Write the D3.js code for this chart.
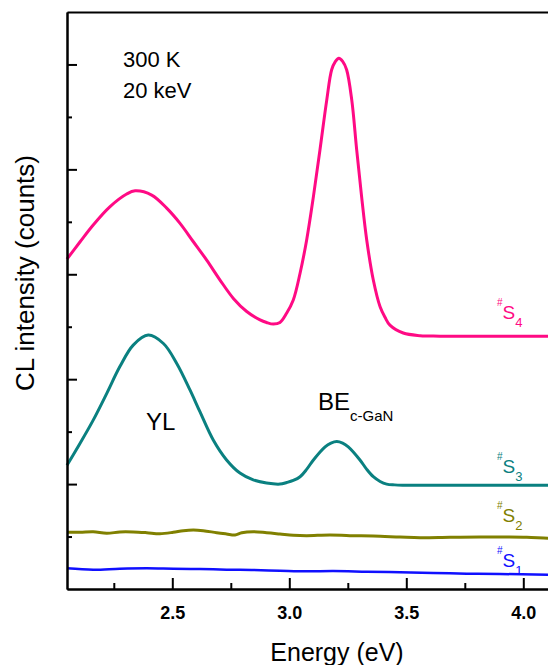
<!DOCTYPE html>
<html>
<head>
<meta charset="utf-8">
<script src="https://cdn.jsdelivr.net/npm/d3@7"></script>
<style>
  body { margin: 0; background: #fff; }
  svg { display: block; font-family: "Liberation Sans", Arial, sans-serif; }
</style>
</head>
<body>
<svg id="chart" width="548" height="665"></svg>
<script>
// values (intensity in arbitrary units, 1 unit = one minor y tick)
const s4Energy = [2.05, 2.106, 2.162, 2.234, 2.305, 2.341, 2.412, 2.476, 2.533, 2.59, 2.647, 2.704, 2.761, 2.818, 2.875, 2.903, 2.932, 2.96, 2.989, 3.017, 3.046, 3.074, 3.103, 3.131, 3.16, 3.181, 3.196, 3.212, 3.228, 3.245, 3.267, 3.288, 3.309, 3.331, 3.359, 3.388, 3.409, 3.43, 3.487, 3.559, 3.644, 4.2];
const s4Counts = [6.29, 6.62, 6.94, 7.29, 7.53, 7.59, 7.51, 7.26, 6.97, 6.62, 6.27, 5.89, 5.54, 5.29, 5.13, 5.08, 5.05, 5.08, 5.26, 5.51, 6.02, 6.65, 7.48, 8.37, 9.32, 9.9, 10.05, 10.12, 10.06, 9.9, 9.32, 8.37, 7.48, 6.65, 5.89, 5.38, 5.18, 5.03, 4.88, 4.83, 4.82, 4.82];

const s3Energy = [2.05, 2.106, 2.162, 2.22, 2.276, 2.333, 2.397, 2.462, 2.519, 2.576, 2.618, 2.675, 2.732, 2.789, 2.846, 2.903, 2.96, 2.989, 3.017, 3.046, 3.074, 3.103, 3.153, 3.178, 3.203, 3.228, 3.252, 3.302, 3.331, 3.359, 3.388, 3.416, 3.45, 3.487, 4.2];
const s3Counts = [2.36, 2.78, 3.22, 3.73, 4.24, 4.65, 4.84, 4.68, 4.3, 3.79, 3.38, 2.84, 2.46, 2.21, 2.08, 2.02, 2.0, 2.03, 2.07, 2.14, 2.28, 2.46, 2.71, 2.78, 2.81, 2.78, 2.71, 2.46, 2.28, 2.14, 2.05, 2.0, 1.985, 1.98, 1.98];

const s2Energy = [2.05, 2.106, 2.162, 2.22, 2.276, 2.333, 2.391, 2.447, 2.504, 2.547, 2.59, 2.632, 2.69, 2.732, 2.768, 2.797, 2.846, 2.903, 2.96, 3.017, 3.074, 3.174, 3.259, 3.359, 3.473, 3.559, 3.687, 3.815, 3.929, 4.015, 4.107, 4.2];
const s2Counts = [1.081, 1.081, 1.092, 1.062, 1.087, 1.087, 1.073, 1.054, 1.081, 1.112, 1.125, 1.112, 1.073, 1.049, 1.03, 1.073, 1.092, 1.073, 1.049, 1.024, 1.016, 1.03, 1.016, 1.01, 0.991, 0.978, 0.986, 0.991, 0.991, 0.986, 0.967, 0.96];

const s1Energy = [2.05, 2.162, 2.276, 2.391, 2.504, 2.618, 2.732, 2.846, 2.96, 3.074, 3.188, 3.331, 3.473, 3.615, 3.758, 3.9, 4.107, 4.2];
const s1Counts = [0.395, 0.368, 0.387, 0.395, 0.387, 0.381, 0.368, 0.362, 0.349, 0.337, 0.343, 0.33, 0.318, 0.305, 0.292, 0.286, 0.273, 0.27];

const xMajor = [2.5, 3.0, 3.5, 4.0];
const xMinor = [2.25, 2.75, 3.25, 3.75];
const yMajor = [2, 4, 6, 8, 10];
const yMinor = [1, 3, 5, 7, 9];

const series = [
  { name: "4", energy: s4Energy, counts: s4Counts, color: "#ff0a84", width: 3 },
  { name: "3", energy: s3Energy, counts: s3Counts, color: "#0a8080", width: 3 },
  { name: "2", energy: s2Energy, counts: s2Counts, color: "#808000", width: 3 },
  { name: "1", energy: s1Energy, counts: s1Counts, color: "#1010ff", width: 2.5 }
];

const svg = d3.select("#chart");
const plotLeft = 67, plotBottom = 589, plotTop = 12;

const x = d3.scaleLinear().domain([2.05, 4.2]).range([plotLeft, plotLeft + 2.15 * 234]);
const y = d3.scaleLinear().domain([0, 11]).range([plotBottom, plotTop]);

// lines
const line = d3.line()
  .x(d => x(d[0]))
  .y(d => y(d[1]))
  .curve(d3.curveCatmullRom.alpha(0.5));

svg.append("g").selectAll("path")
  .data(series)
  .join("path")
  .attr("fill", "none")
  .attr("stroke", d => d.color)
  .attr("stroke-width", d => d.width)
  .attr("stroke-linejoin", "round")
  .attr("d", d => line(d3.zip(d.energy, d.counts)));

// axes
function styleAxis(g) {
  g.selectAll("path.domain").attr("stroke", "#000").attr("stroke-width", 2);
  g.selectAll(".tick line").attr("stroke", "#000").attr("stroke-width", 2);
}

svg.append("g")
  .attr("transform", `translate(0,${plotBottom})`)
  .call(d3.axisBottom(x).tickValues(xMinor).tickSize(-6).tickSizeOuter(0).tickFormat(""))
  .call(styleAxis);

svg.append("g")
  .attr("transform", `translate(0,${plotBottom})`)
  .call(d3.axisBottom(x).tickValues(xMajor).tickSize(-11).tickSizeOuter(0).tickFormat(d3.format(".1f")).tickPadding(17))
  .call(styleAxis)
  .call(g => g.selectAll("text")
    .attr("font-family", '"Liberation Sans", Arial, sans-serif')
    .attr("font-size", 18).attr("font-weight", "bold").attr("fill", "#000"));

svg.append("g")
  .attr("transform", `translate(0,${plotTop})`)
  .call(d3.axisTop(x).tickValues([]).tickSizeOuter(0))
  .call(styleAxis);

svg.append("g")
  .attr("transform", `translate(${plotLeft},0)`)
  .call(d3.axisLeft(y).tickValues(yMinor).tickSize(-5).tickSizeOuter(0).tickFormat(""))
  .call(styleAxis);

svg.append("g")
  .attr("transform", `translate(${plotLeft},0)`)
  .call(d3.axisLeft(y).tickValues(yMajor).tickSize(-10).tickSizeOuter(0).tickFormat(""))
  .call(styleAxis);

// axis titles
svg.append("text")
  .attr("x", 337).attr("y", 661)
  .attr("text-anchor", "middle")
  .attr("font-size", 25)
  .text("Energy (eV)");

svg.append("text")
  .attr("transform", "translate(34,273) rotate(-90)")
  .attr("text-anchor", "middle")
  .attr("font-size", 26)
  .text("CL intensity (counts)");

// conditions
svg.append("text").attr("x", 123).attr("y", 67).attr("font-size", 22).text("300 K");
svg.append("text").attr("x", 123).attr("y", 98).attr("font-size", 22).text("20 keV");

// peak labels
svg.append("text").attr("x", 146).attr("y", 430).attr("font-size", 24).text("YL");
const be = svg.append("text").attr("x", 318).attr("y", 410).attr("font-size", 24);
be.append("tspan").text("BE");
be.append("tspan").attr("font-size", 15).attr("dy", 11).text("c-GaN");

// sample labels
const labelBase = { "4": 319, "3": 473, "2": 521.5, "1": 566.5 };
series.forEach(s => {
  const t = svg.append("text")
    .attr("x", 497)
    .attr("y", labelBase[s.name])
    .attr("fill", s.color);
  t.append("tspan").attr("font-size", 10).attr("dy", -13).text("#");
  t.append("tspan").attr("font-size", 19).attr("dy", 13).text("S");
  t.append("tspan").attr("font-size", 13).attr("dy", 8).text(s.name);
});
</script>
</body>
</html>
